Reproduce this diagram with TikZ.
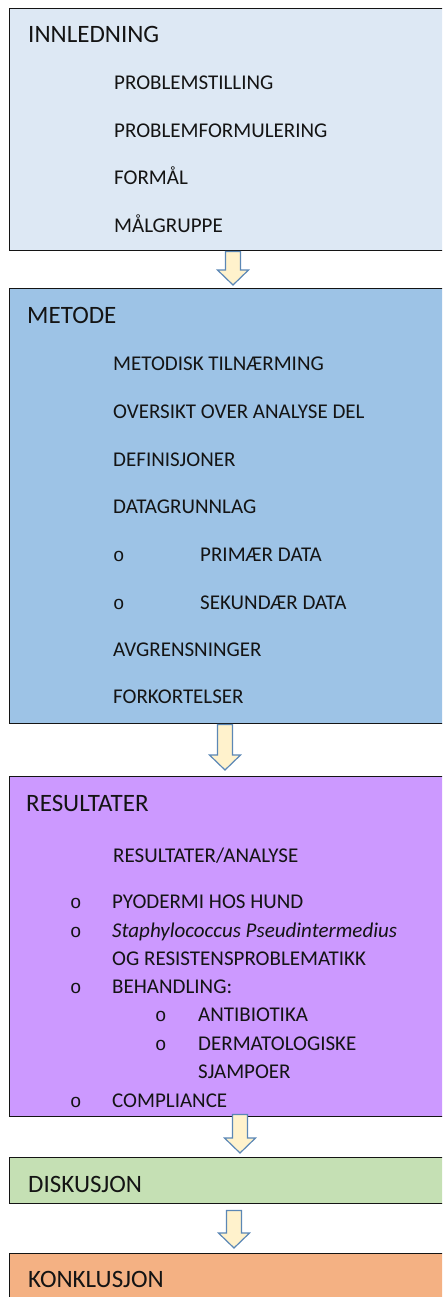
\documentclass[tikz,border=0pt]{standalone}
\usepackage{fontspec}
\setmainfont{Carlito}
\newfontfamily\bulletfont{Liberation Mono}
\definecolor{introfill}{HTML}{DDE8F4}
\definecolor{methodfill}{HTML}{9DC3E6}
\definecolor{resultfill}{HTML}{CC99FF}
\definecolor{discfill}{HTML}{C5E0B4}
\definecolor{conclfill}{HTML}{F4B183}
\definecolor{arrowfill}{HTML}{FFF2CC}
\definecolor{arrowedge}{HTML}{5B87B5}
\definecolor{ink}{HTML}{141414}
% block arrow from a top point (#1) down to its tip (#2)
\newcommand\flowarrow[2]{%
  \draw[blockarrow] ([xshift=-7.5pt]#1) -- ([xshift=7.5pt]#1)
    -- ([xshift=7.5pt,yshift=15pt]#2) -- ([xshift=15.5pt,yshift=15pt]#2)
    -- (#2) -- ([xshift=-15.5pt,yshift=15pt]#2)
    -- ([xshift=-7.5pt,yshift=15pt]#2) -- cycle;}
\begin{document}
\begin{tikzpicture}[x=1pt,y=-1pt,
  box/.style={draw=ink, line width=1.4pt, anchor=north west, inner sep=0pt,
    minimum width=500pt},
  head/.style={anchor=base west, inner sep=0pt, text=ink,
    font=\fontsize{25}{30}\selectfont},
  item/.style={anchor=base west, inner sep=0pt, text=ink,
    font=\fontsize{21}{25}\selectfont},
  bul/.style={anchor=base west, inner sep=0pt, text=ink,
    font=\bulletfont\fontsize{19}{23}\selectfont},
  blockarrow/.style={draw=arrowedge, fill=arrowfill, line width=1.2pt,
    line join=miter}]
\useasboundingbox (0,0) rectangle (442,1297);
\clip (0,0) rectangle (442,1297);

% section boxes (they run on past the right edge)
\node[box, fill=introfill,  minimum height=242pt] (intro)  at (9,8) {};
\node[box, fill=methodfill, minimum height=435pt] (method) at (9,288) {};
\node[box, fill=resultfill, minimum height=340pt] (result) at (9,776) {};
\node[box, fill=discfill,   minimum height=46pt]  (disc)   at (9,1157) {};
\node[box, fill=conclfill,  minimum height=80pt]  (concl)  at (9,1253) {};

% arrows between the boxes
\coordinate (a1s) at (233,0 |- intro.south);
\path (233,0 |- method.north) ++(0,-3) coordinate (a1e);
\coordinate (a2s) at (225,0 |- method.south);
\path (225,0 |- result.north) ++(0,-6) coordinate (a2e);
\path (240,0 |- result.south) ++(0,-3) coordinate (a3s);
\path (240,0 |- disc.north) ++(0,-4) coordinate (a3e);
\path (234,0 |- disc.south) ++(0,6) coordinate (a4s);
\path (234,0 |- concl.north) ++(0,-5) coordinate (a4e);
\flowarrow{a1s}{a1e}
\flowarrow{a2s}{a2e}
\flowarrow{a3s}{a3e}
\flowarrow{a4s}{a4e}

% INNLEDNING
\node[head] (h1) at (28,43) {INNLEDNING};
\node[item] (i11) at (114,90)  {PROBLEMSTILLING};
\node[item] (i12) at (114,138) {PROBLEMFORMULERING};
\node[item] (i13) at (114,185) {FORMÅL};
\node[item] (i14) at (114,233) {MÅLGRUPPE};

% METODE
\node[head] (h2) at (27,323) {METODE};
\node[item] (i21) at (113,370) {METODISK TILNÆRMING};
\node[item] (i22) at (113,418) {OVERSIKT OVER ANALYSE DEL};
\node[item] (i23) at (113,466) {DEFINISJONER};
\node[item] (i24) at (113,513) {DATAGRUNNLAG};
\node[bul]  (b25) at (113,561) {o};
\node[item] (i25) at (200,561) {PRIMÆR DATA};
\node[bul]  (b26) at (113,609) {o};
\node[item] (i26) at (200,609) {SEKUNDÆR DATA};
\node[item] (i27) at (113,656) {AVGRENSNINGER};
\node[item] (i28) at (113,703) {FORKORTELSER};

% RESULTATER
\node[head] (h3) at (26,811) {RESULTATER};
\node[item] (i31) at (113,862) {RESULTATER/ANALYSE};
\node[bul]  (b32) at (70,908)  {o};
\node[item] (i32) at (112,908) {PYODERMI HOS HUND};
\node[bul]  (b33) at (70,937)  {o};
\node[item] (i33) at (112,937) {\itshape Staphylococcus Pseudintermedius};
\node[item] (i34) at (112,965) {OG RESISTENSPROBLEMATIKK};
\node[bul]  (b35) at (70,993)  {o};
\node[item] (i35) at (112,993) {BEHANDLING:};
\node[bul]  (b36) at (155,1021) {o};
\node[item] (i36) at (198,1021) {ANTIBIOTIKA};
\node[bul]  (b37) at (155,1050) {o};
\node[item] (i37) at (198,1050) {DERMATOLOGISKE};
\node[item] (i38) at (198,1078) {SJAMPOER};
\node[bul]  (b39) at (70,1107)  {o};
\node[item] (i39) at (112,1107) {COMPLIANCE};

% DISKUSJON and KONKLUSJON
\node[head] (h4) at (28,1192) {DISKUSJON};
\node[head] (h5) at (28,1287) {KONKLUSJON};
\end{tikzpicture}
\end{document}
